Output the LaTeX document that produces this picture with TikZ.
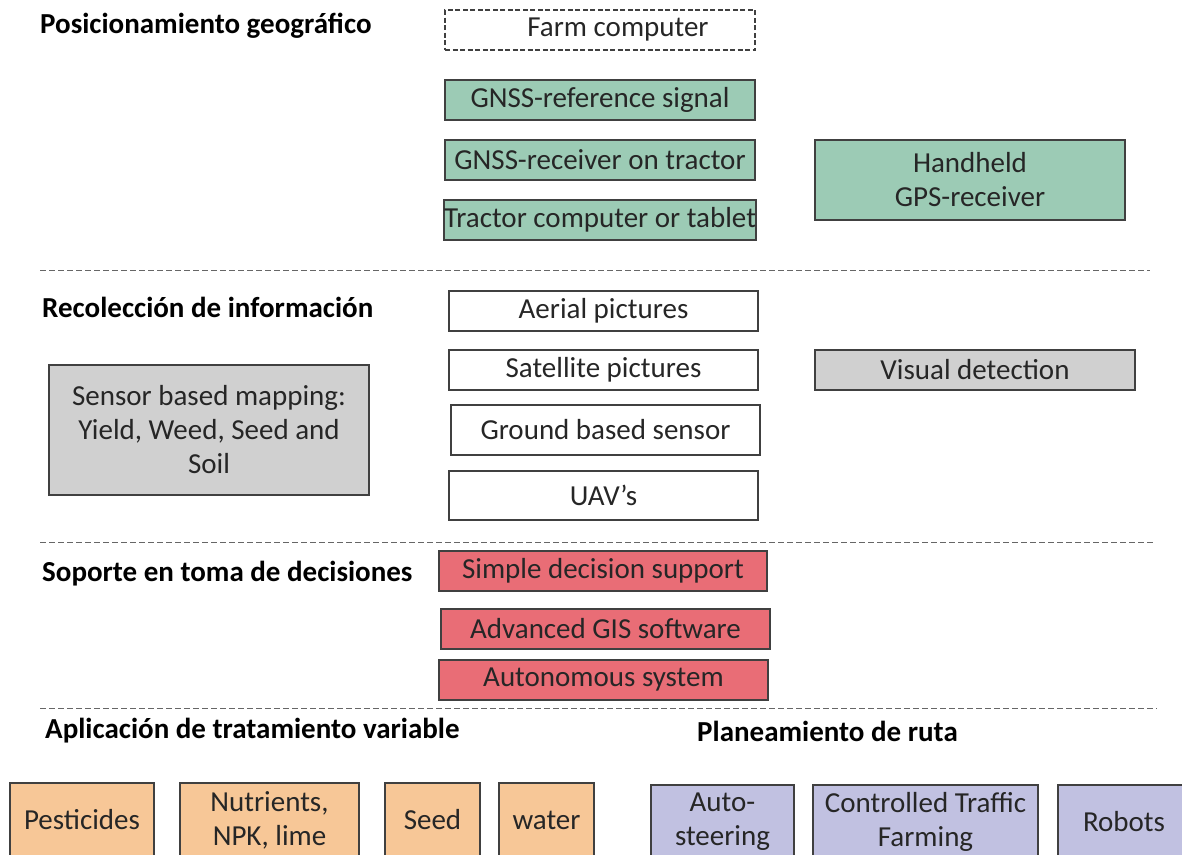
\documentclass[tikz,border=0pt]{standalone}
\usepackage{fontspec}
\setmainfont{Carlito}
\usetikzlibrary{positioning}

\definecolor{geogreen}{HTML}{9CCBB5}
\definecolor{infogrey}{HTML}{D0D0D0}
\definecolor{decred}{HTML}{E96D76}
\definecolor{apporange}{HTML}{F7C797}
\definecolor{routeblue}{HTML}{C1C1E1}
\definecolor{edgegrey}{HTML}{404040}
\definecolor{txt}{HTML}{262626}

\tikzset{
  box/.style={draw=edgegrey,line width=1.1pt,align=center,inner sep=1pt,
    text=txt,font=\fontsize{29}{34}\selectfont},
  heading/.style={anchor=west,inner sep=0pt,text=black,
    font=\fontsize{29}{34}\selectfont\bfseries},
  sepline/.style={draw=edgegrey!80,line width=0.9pt,dash pattern=on 6pt off 3pt}
}

\begin{document}
\begin{tikzpicture}[x=1pt,y=-1pt]
    \useasboundingbox (0,0) rectangle (1182,854);
    \clip (0,0) rectangle (1182,854);

    % headings
    \node[heading] (hgeo) at (40,26) {Posicionamiento geográfico};
    \node[heading] (hinfo) at (42,307) {Recolección de información};
    \node[heading] (hdec) at (42,574) {Soporte en toma de decisiones};
    \node[heading] (happ) at (45,731) {Aplicación de tratamiento variable};
    \node[heading] (hroute) at (697,731) {Planeamiento de ruta};

    % separators
    \draw[sepline] (40,270) -- (1150,270);
    \draw[sepline] (40,542) -- (1155,542);
    \draw[sepline] (40,708) -- (1157,708);

    \node[box,dash pattern=on 5pt off 2.5pt,minimum width=310pt,minimum height=40pt] (farm) at (600,30)
      {\hspace*{36pt}Farm computer};

    \begin{scope}[every node/.style={box,fill=geogreen}]
      \node[minimum width=310pt,minimum height=40pt] (gnssref) at (600,100) {GNSS-reference signal};
      \node[minimum width=310pt,minimum height=40pt] (gnssrec) at (600,160) {GNSS-receiver on tractor};
      \node[minimum width=310pt,minimum height=40pt,inner xsep=0pt] (tractor) at (600,220) {Tractor computer or tablet};
      \node[minimum width=310pt,minimum height=80pt] (handheld) at (970,180) {Handheld\\GPS-receiver};
    \end{scope}

    \begin{scope}[every node/.style={box,fill=white}]
      \node[minimum width=309pt,minimum height=40pt] (aerial) at (603.5,311) {Aerial pictures};
      \node[minimum width=309pt,minimum height=40pt] (satellite) at (603.5,370) {Satellite pictures};
      \node[minimum width=309pt,minimum height=50pt] (ground) at (605.5,430) {Ground based sensor};
      \node[minimum width=309pt,minimum height=49pt] (uav) at (603.5,495.5) {UAV’s};
    \end{scope}

    \begin{scope}[every node/.style={box,fill=infogrey}]
      \node[minimum width=320pt,minimum height=40pt] (visual) at (975,370) {Visual detection};
      \node[minimum width=320pt,minimum height=130pt] (sensor) at (209,430)
        {Sensor based mapping:\\Yield, Weed, Seed and\\Soil};
    \end{scope}

    \begin{scope}[every node/.style={box,fill=decred}]
      \node[minimum width=328pt,minimum height=40pt] (simple) at (603,571) {Simple decision support};
      \node[minimum width=329pt,minimum height=40pt] (gis) at (605.5,629) {Advanced GIS software};
      \node[minimum width=329pt,minimum height=40pt] (auto) at (603.5,680) {Autonomous system};
    \end{scope}

    \begin{scope}[every node/.style={box,fill=apporange,minimum height=74pt}]
      \node[minimum width=144pt] (pest) at (82,820) {Pesticides};
      \node[minimum width=179pt] (nutr) at (269.5,820) {Nutrients,\\NPK, lime};
      \node[minimum width=95pt] (seed) at (432.5,820) {Seed};
      \node[minimum width=95pt] (water) at (546.5,820) {water};
    \end{scope}

    \begin{scope}[every node/.style={box,fill=routeblue,minimum height=74pt}]
      \node[minimum width=143pt] (steer) at (722.5,822) {Auto-\\steering};
      \node[minimum width=225pt] (ctf) at (925.5,822) {Controlled Traffic\\Farming};
      \node[minimum width=132pt] (robots) at (1124,822) {Robots};
    \end{scope}
  \end{tikzpicture}
\end{document}
